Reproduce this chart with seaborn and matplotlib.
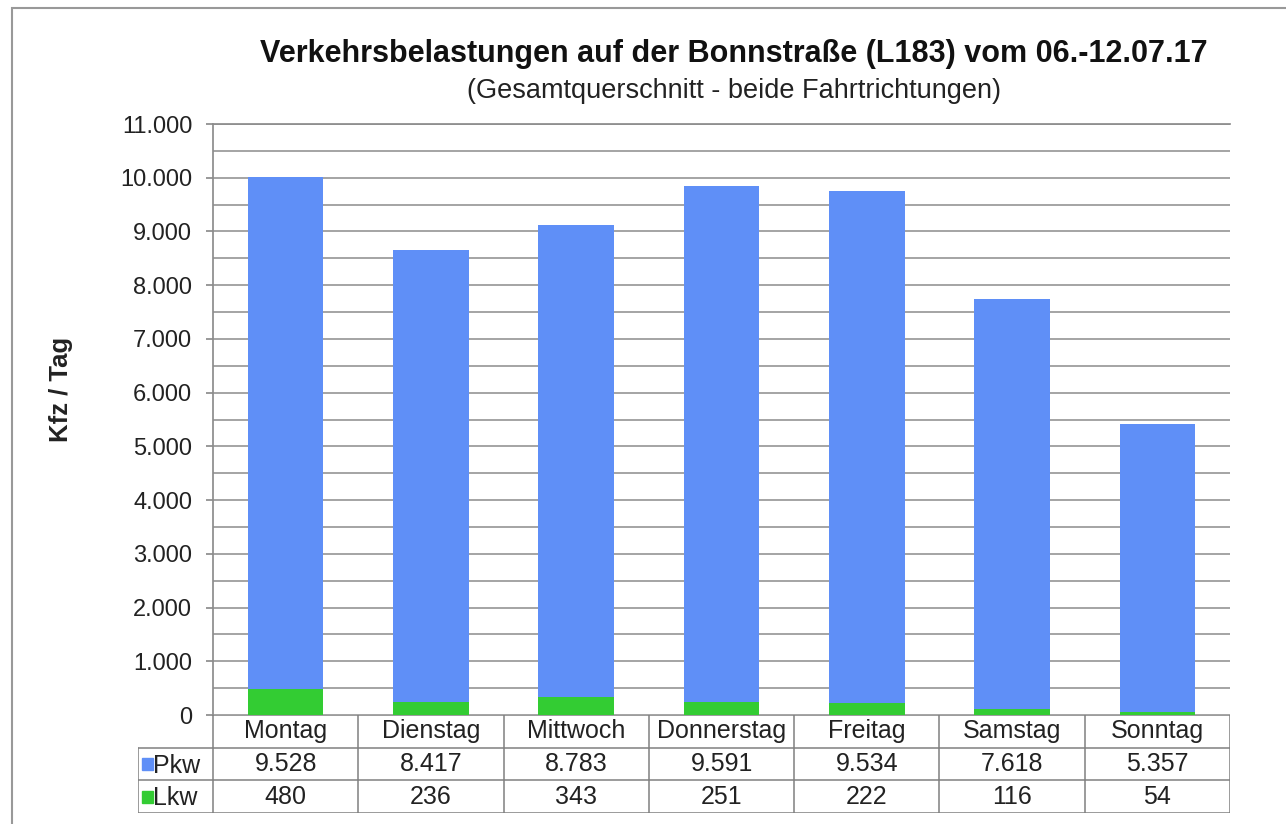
import matplotlib
matplotlib.use("Agg")
import matplotlib.pyplot as plt
import seaborn as sns
import pandas as pd
from matplotlib.patches import Rectangle
from matplotlib.ticker import FuncFormatter, MultipleLocator

# Daten
tage = ["Montag", "Dienstag", "Mittwoch", "Donnerstag", "Freitag", "Samstag", "Sonntag"]
pkw = [9528, 8417, 8783, 9591, 9534, 7618, 5357]
lkw = [480, 236, 343, 251, 222, 116, 54]

BLAU = "#5f8ff7"
GRUEN = "#33cc33"
GRID = "#8c8c8c"
TXT = "#222222"

df = pd.DataFrame({"Tag": tage, "Pkw": pkw, "Lkw": lkw})
df["Gesamt"] = df["Pkw"] + df["Lkw"]


def tausend(v):
    return f"{int(v):,}".replace(",", ".")


sns.set_theme(style="white")
plt.rcParams["font.family"] = ["Liberation Sans", "DejaVu Sans"]

W, H = 1286, 824
fig = plt.figure(figsize=(W / 100, H / 100), dpi=100)

# Hauptachse (gestapelt: Gesamt blau, Lkw gruen darueber)
ax = fig.add_axes([213 / W, 1 - 715 / H, (1230 - 213) / W, (715 - 124) / H])
sns.barplot(data=df, x="Tag", y="Gesamt", color=BLAU, saturation=1, width=0.52,
            linewidth=0, ax=ax)
sns.barplot(data=df, x="Tag", y="Lkw", color=GRUEN, saturation=1, width=0.52,
            linewidth=0, ax=ax)
ax.set_xlim(-0.5, 6.5)
ax.set_ylim(0, 11000)
ax.yaxis.set_major_locator(MultipleLocator(1000))
ax.yaxis.set_minor_locator(MultipleLocator(500))
ax.yaxis.set_major_formatter(FuncFormatter(lambda v, p: tausend(v)))
ax.grid(axis="y", which="both", color=GRID, linewidth=1.1)
ax.set_axisbelow(True)
ax.tick_params(axis="y", which="major", left=True, length=5, color=GRID,
               labelsize=17, pad=10, labelcolor=TXT)
ax.tick_params(axis="y", which="minor", left=False)
ax.tick_params(axis="x", bottom=False, labelbottom=False)
ax.set_xlabel("")
ax.set_ylabel("Kfz / Tag", fontsize=18.5, fontweight="bold", color=TXT)
ax.yaxis.set_label_coords((73 - 213) / 1017, (715 - 389) / 591)
for s in ["right", "bottom"]:
    ax.spines[s].set_visible(False)
ax.spines["left"].set_color(GRID)
ax.spines["top"].set_color(GRID)

# Datentabelle
lab_w = 75 / 145
tax = fig.add_axes([138 / W, 1 - 813 / H, (1230 - 138) / W, (813 - 715) / H])
tax.set_xlim(-0.5 - lab_w, 6.5)
tax.set_ylim(3, 0)
tax.axis("off")
x0 = -0.5 - lab_w
lc = "#808080"
tax.plot([-0.5, 6.5], [0, 0], color=lc, lw=1.1)
for yy in [1, 2, 3]:
    tax.plot([x0, 6.5], [yy, yy], color=lc, lw=1.1)
tax.plot([x0, x0], [1, 3], color=lc, lw=1.1)
for i in range(len(tage) + 1):
    tax.plot([i - 0.5, i - 0.5], [0, 3], color=lc, lw=1.1)

for i, t in enumerate(tage):
    tax.text(i, 0.5, t, ha="center", va="center", fontsize=18, color=TXT)
    tax.text(i, 1.5, tausend(pkw[i]), ha="center", va="center", fontsize=18, color=TXT)
    tax.text(i, 2.5, tausend(lkw[i]), ha="center", va="center", fontsize=18, color=TXT)

for r, (name, col) in enumerate([("Pkw", BLAU), ("Lkw", GRUEN)]):
    tax.add_patch(Rectangle((x0 + 0.03, r + 1.5 - 0.18), 0.07, 0.36, color=col, clip_on=False))
    tax.text(x0 + 0.105, r + 1.55, name, ha="left", va="center", fontsize=18, color=TXT)

# Titel
fig.text(734 / W, 1 - 54 / H, "Verkehrsbelastungen auf der Bonnstraße (L183) vom 06.-12.07.17",
         ha="center", va="center", fontsize=22, fontweight="bold", color="#111111")
fig.text(734 / W, 1 - 91 / H, "(Gesamtquerschnitt - beide Fahrtrichtungen)",
         ha="center", va="center", fontsize=19.5, color=TXT)

# Rahmen
fig.patches.append(Rectangle((12 / W, -0.01), 1.0, 1 - 8 / H + 0.01,
                             transform=fig.transFigure, fill=False, edgecolor="#999999", lw=1.5))

fig.savefig("out.png", dpi=100)
